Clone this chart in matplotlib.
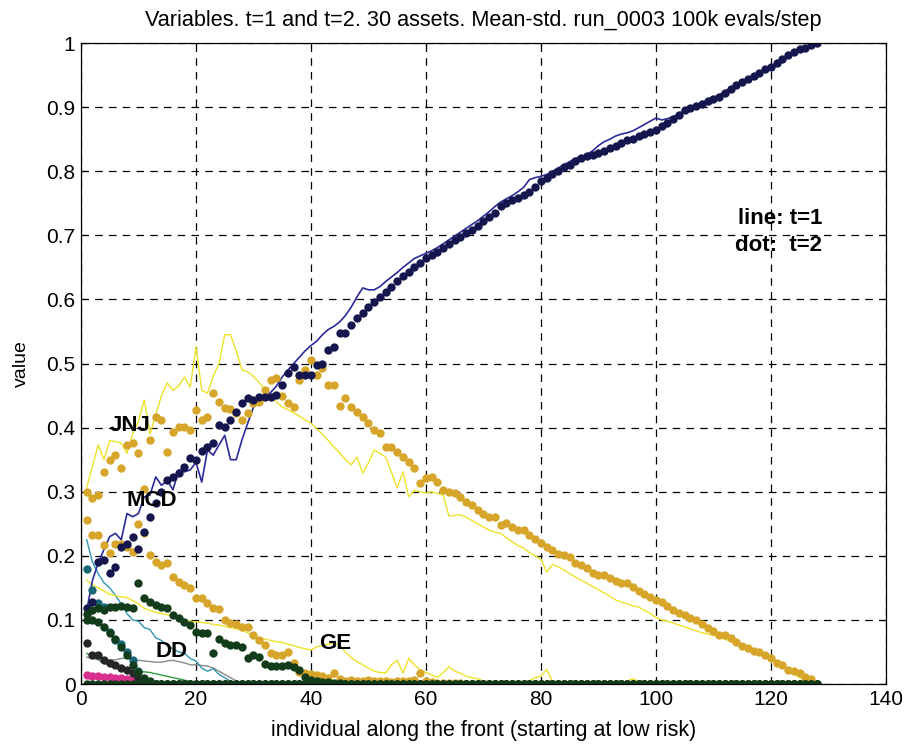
import numpy as np
import matplotlib
matplotlib.use("Agg")
import matplotlib.pyplot as plt

plt.rcParams['font.family'] = ['Liberation Sans', 'DejaVu Sans']

# individuals along the front, low risk -> high risk
idx = np.arange(1, 129)

# ---- t=1 (lines) ----
mcd_t1 = [0.115, 0.162, 0.189, 0.21, 0.23, 0.235, 0.225, 0.266, 0.261, 0.266,
          0.292, 0.295, 0.323, 0.31, 0.318, 0.303, 0.334, 0.331, 0.334, 0.346,
          0.315, 0.365, 0.357, 0.373, 0.388, 0.35, 0.35, 0.381, 0.407, 0.432,
          0.44, 0.448, 0.455, 0.465, 0.479, 0.49, 0.5, 0.51, 0.52, 0.528,
          0.535, 0.545, 0.553, 0.558, 0.565, 0.575, 0.588, 0.604, 0.618, 0.615,
          0.615, 0.62, 0.628, 0.635, 0.642, 0.65, 0.657, 0.664, 0.668, 0.672,
          0.676, 0.681, 0.687, 0.693, 0.699, 0.705, 0.711, 0.717, 0.723, 0.73,
          0.737, 0.745, 0.752, 0.757, 0.762, 0.768, 0.775, 0.787, 0.79, 0.792,
          0.795, 0.8, 0.805, 0.81, 0.815, 0.82, 0.823, 0.826, 0.832, 0.84,
          0.846, 0.85, 0.855, 0.858, 0.86, 0.863, 0.868, 0.873, 0.878, 0.883,
          0.88, 0.882, 0.885, 0.89, 0.895, 0.899, 0.903, 0.907, 0.911, 0.915,
          0.919, 0.925, 0.93, 0.935, 0.94, 0.945, 0.95, 0.955, 0.959, 0.963,
          0.968, 0.973, 0.978, 0.983, 0.987, 0.991, 0.995, 1.0]

jnj_t1 = [0.307, 0.34, 0.373, 0.35, 0.38, 0.378, 0.376, 0.36, 0.39, 0.41,
          0.443, 0.39, 0.42, 0.45, 0.47, 0.458, 0.465, 0.479, 0.463, 0.526,
          0.458, 0.454, 0.48, 0.5, 0.545, 0.545, 0.52, 0.49, 0.487, 0.48,
          0.47, 0.46, 0.45, 0.44, 0.432, 0.428, 0.423, 0.418, 0.412, 0.407,
          0.398, 0.39, 0.38, 0.37, 0.36, 0.35, 0.342, 0.354, 0.329, 0.345,
          0.365, 0.36, 0.354, 0.33, 0.306, 0.331, 0.292, 0.302, 0.3, 0.298,
          0.3, 0.297, 0.295, 0.262, 0.263, 0.264, 0.26, 0.255, 0.25, 0.245,
          0.24, 0.237, 0.235, 0.228, 0.222, 0.216, 0.212, 0.205, 0.2, 0.195,
          0.175, 0.186, 0.183, 0.178, 0.172, 0.167, 0.162, 0.157, 0.152, 0.147,
          0.142, 0.137, 0.131, 0.128, 0.125, 0.122, 0.12, 0.115, 0.11, 0.104,
          0.1, 0.098, 0.095, 0.092, 0.089, 0.086, 0.083, 0.08, 0.078, 0.076,
          0.073, 0.07, 0.066, 0.063, 0.059, 0.055, 0.051, 0.046, 0.042, 0.038,
          0.033, 0.028, 0.022, 0.016, 0.01, 0.006, 0.003, 0.0]

ge_t1 = [0.162, 0.155, 0.15, 0.145, 0.14, 0.138, 0.136, 0.135, 0.13, 0.125,
         0.118, 0.115, 0.112, 0.11, 0.108, 0.105, 0.103, 0.1, 0.098, 0.097,
         0.096, 0.095, 0.093, 0.092, 0.09, 0.088, 0.086, 0.084, 0.08, 0.075,
         0.072, 0.07, 0.068, 0.066, 0.065, 0.062, 0.06, 0.057, 0.055, 0.053,
         0.058, 0.06, 0.062, 0.064, 0.06, 0.05, 0.041, 0.035, 0.03, 0.025,
         0.02, 0.018, 0.017, 0.03, 0.037, 0.017, 0.04, 0.03, 0.022, 0.018,
         0.014, 0.01, 0.018, 0.027, 0.02, 0.017, 0.012, 0.01, 0.008, 0.005,
         0.003, 0.002, 0.002, 0.001, 0.0, 0.0, 0.0, 0.005, 0.01, 0.012,
         0.023, 0.004, 0.0, 0.0, 0.0, 0.0, 0.0, 0.0, 0.0, 0.0,
         0.0, 0.0, 0.0, 0.0, 0.005, 0.008, 0.004, 0.0, 0.0, 0.0,
         0.0, 0.0, 0.0, 0.0, 0.0, 0.0, 0.0, 0.0, 0.0, 0.0,
         0.0, 0.0, 0.0, 0.0, 0.0, 0.0, 0.0, 0.0, 0.0, 0.0,
         0.0, 0.0, 0.0, 0.0, 0.0, 0.0, 0.0, 0.0]

dd_t1 = [0.225, 0.19, 0.172, 0.158, 0.15, 0.138, 0.125, 0.11, 0.1, 0.098,
         0.088, 0.085, 0.072, 0.068, 0.06, 0.055, 0.05, 0.048, 0.04, 0.036,
         0.025, 0.02, 0.024, 0.015, 0.01, 0.004] + [0.0] * 102

gray_t1 = [0.042, 0.04, 0.038, 0.036, 0.037, 0.038, 0.04, 0.04, 0.038, 0.037,
           0.036, 0.035, 0.034, 0.034, 0.036, 0.037, 0.035, 0.033, 0.03, 0.03,
           0.029, 0.028, 0.025, 0.02, 0.015, 0.01, 0.005] + [0.0] * 101

green_t1 = [0.048, 0.043, 0.038, 0.032, 0.03, 0.026, 0.023, 0.022, 0.021, 0.02,
            0.019, 0.018, 0.016, 0.014, 0.012, 0.01, 0.008, 0.006, 0.004, 0.002] + [0.0] * 108

pink_t1 = [0.012, 0.012, 0.012, 0.011, 0.011, 0.011, 0.01, 0.01, 0.008, 0.004] + [0.0] * 118

# ---- t=2 (dots) ----
mcd_t2 = [0.118, 0.128, 0.19, 0.193, 0.173, 0.183, 0.214, 0.218, 0.23, 0.21,
          0.237, 0.26, 0.282, 0.3, 0.318, 0.323, 0.329, 0.339, 0.353, 0.35,
          0.364, 0.37, 0.376, 0.404, 0.401, 0.412, 0.424, 0.438, 0.446, 0.443,
          0.448, 0.448, 0.448, 0.451, 0.466, 0.485, 0.495, 0.482, 0.482, 0.482,
          0.498, 0.5, 0.521, 0.526, 0.547, 0.547, 0.56, 0.571, 0.579, 0.588,
          0.596, 0.604, 0.612, 0.62, 0.628, 0.636, 0.643, 0.65, 0.657, 0.665,
          0.67, 0.674, 0.68, 0.686, 0.692, 0.698, 0.703, 0.709, 0.715, 0.722,
          0.728, 0.735, 0.745, 0.75, 0.755, 0.758, 0.763, 0.768, 0.775, 0.784,
          0.79, 0.795, 0.8, 0.806, 0.81, 0.816, 0.82, 0.824, 0.826, 0.828,
          0.832, 0.836, 0.84, 0.844, 0.848, 0.851, 0.855, 0.858, 0.861, 0.864,
          0.87, 0.876, 0.882, 0.888, 0.895, 0.898, 0.902, 0.905, 0.909, 0.913,
          0.916, 0.922, 0.929, 0.934, 0.939, 0.944, 0.949, 0.954, 0.959, 0.963,
          0.969, 0.975, 0.981, 0.986, 0.99, 0.993, 0.997, 1.0]

jnj_t2 = [0.3, 0.29, 0.295, 0.33, 0.35, 0.357, 0.337, 0.373, 0.376, 0.36,
          0.305, 0.381, 0.417, 0.412, 0.362, 0.393, 0.401, 0.401, 0.396, 0.427,
          0.412, 0.417, 0.454, 0.44, 0.43, 0.429, 0.423, 0.412, 0.423, 0.438,
          0.44, 0.459, 0.474, 0.477, 0.45, 0.438, 0.432, 0.474, 0.49, 0.505,
          0.482, 0.493, 0.466, 0.466, 0.434, 0.446, 0.432, 0.424, 0.417, 0.407,
          0.396, 0.391, 0.37, 0.37, 0.362, 0.354, 0.346, 0.337, 0.313, 0.321,
          0.323, 0.315, 0.303, 0.3, 0.298, 0.292, 0.284, 0.279, 0.271, 0.266,
          0.261, 0.261, 0.248, 0.251, 0.245, 0.24, 0.24, 0.232, 0.226, 0.22,
          0.214, 0.209, 0.203, 0.201, 0.198, 0.189, 0.186, 0.181, 0.173, 0.17,
          0.17, 0.165, 0.161, 0.158, 0.157, 0.151, 0.145, 0.141, 0.136, 0.131,
          0.128, 0.121, 0.115, 0.111, 0.108, 0.103, 0.1, 0.094, 0.088, 0.082,
          0.076, 0.076, 0.072, 0.066, 0.06, 0.056, 0.052, 0.05, 0.045, 0.04,
          0.033, 0.03, 0.022, 0.02, 0.017, 0.011, 0.008, 0.0]

ge_t2 = [0.256, 0.232, 0.232, 0.217, 0.204, 0.218, 0.218, 0.214, 0.206, 0.25,
         0.236, 0.201, 0.19, 0.186, 0.189, 0.167, 0.159, 0.154, 0.15, 0.134,
         0.134, 0.126, 0.118, 0.117, 0.1, 0.095, 0.094, 0.089, 0.089, 0.076,
         0.069, 0.061, 0.048, 0.045, 0.045, 0.05, 0.033, 0.019, 0.017, 0.016,
         0.014, 0.013, 0.01, 0.017, 0.008, 0.005, 0.006, 0.004, 0.005, 0.006,
         0.004, 0.005, 0.004, 0.003, 0.004, 0.005, 0.004, 0.006, 0.017, 0.005,
         0.003, 0.002, 0.002, 0.002, 0.001, 0.001] + [0.0] * 62

green_t2 = [0.11, 0.115, 0.118, 0.115, 0.12, 0.12, 0.121, 0.12, 0.118, 0.158,
            0.134, 0.128, 0.123, 0.12, 0.118, 0.108, 0.103, 0.097, 0.092, 0.081,
            0.08, 0.08, 0.048, 0.07, 0.064, 0.061, 0.061, 0.058, 0.04, 0.045,
            0.042, 0.031, 0.028, 0.028, 0.028, 0.03, 0.027, 0.022, 0.011, 0.006,
            0.004, 0.003, 0.003, 0.002, 0.002] + [0.0] * 83

green2_t2 = [0.1, 0.1, 0.097, 0.089, 0.08, 0.07, 0.058, 0.045, 0.03, 0.018,
             0.01, 0.004] + [0.0] * 116

dd_t2 = [0.18, 0.147, 0.126, 0.12, 0.081, 0.068, 0.062, 0.05, 0.037, 0.02,
         0.008] + [0.0] * 117

black_t2 = [0.064, 0.045, 0.045, 0.038, 0.033, 0.03, 0.025, 0.022, 0.017, 0.01,
            0.005] + [0.0] * 117

pink_t2 = [0.014, 0.012, 0.012, 0.011, 0.011, 0.01, 0.01, 0.008, 0.006, 0.003] + [0.0] * 118

# assets that stay out of the portfolio at t=2
rest_t2 = [0.0] * 128

fig = plt.figure(figsize=(9.11, 7.47), dpi=100)
ax = fig.add_axes([0.0889, 0.0843, 0.8836, 0.8581])

# lines: t=1
ax.plot(idx, pink_t1, color='#e0308f', lw=1.0)
ax.plot(idx, green_t1, color='#2e9a3c', lw=1.0)
ax.plot(idx, gray_t1, color='#8a8a8a', lw=1.0)
ax.plot(idx, dd_t1, color='#2f95b5', lw=1.0)
ax.plot(idx, ge_t1, color='#ece22a', lw=1.0)
ax.plot(idx, jnj_t1, color='#ece22a', lw=1.0)
ax.plot(idx, mcd_t1, color='#2a2a9a', lw=1.2)

# dots: t=2
ms = 6.0
ax.plot(idx, pink_t2, 'o', color='#d8308c', ms=ms, mec='none')
ax.plot(idx, black_t2, 'o', color='#262626', ms=ms, mec='none')
ax.plot(idx, dd_t2, 'o', color='#1b6878', ms=ms, mec='none')
ax.plot(idx, ge_t2, 'o', color='#d6a52a', ms=ms, mec='none')
ax.plot(idx, jnj_t2, 'o', color='#d6a52a', ms=ms, mec='none')
ax.plot(idx, mcd_t2, 'o', color='#16164e', ms=ms, mec='none')
ax.plot(idx, green2_t2, 'o', color='#123c1a', ms=ms, mec='none')
ax.plot(idx, green_t2, 'o', color='#123c1a', ms=ms, mec='none')
ax.plot(idx, rest_t2, 'o', color='#123c1a', ms=ms, mec='none')

# asset names
lab = dict(fontsize=16, fontweight='bold', color='black', ha='center', va='center')
ax.text(8.5, 0.404, 'JNJ', **lab)
ax.text(12.3, 0.287, 'MCD', **lab)
ax.text(15.8, 0.051, 'DD', **lab)
ax.text(44.2, 0.064, 'GE', **lab)
ax.text(128.9, 0.727, 'line: t=1', fontsize=16, fontweight='bold', ha='right', va='center')
ax.text(128.9, 0.684, 'dot:  t=2', fontsize=16, fontweight='bold', ha='right', va='center')

ax.set_xlim(0, 140)
ax.set_ylim(0, 1)
ax.set_xticks(np.arange(0, 141, 20))
ax.set_yticks(np.arange(0, 1.01, 0.1))
ax.set_yticklabels(['0', '0.1', '0.2', '0.3', '0.4', '0.5', '0.6', '0.7', '0.8', '0.9', '1'])
ax.tick_params(direction='in', top=True, right=True, labelsize=15, length=4, pad=4)
ax.grid(True, color='black', linestyle=(0, (6, 5)), linewidth=0.9)
for s in ax.spines.values():
    s.set_linewidth(0.9)

ax.set_title('Variables. t=1 and t=2. 30 assets. Mean-std. run_0003 100k evals/step',
             fontsize=15.6, pad=12)
ax.set_xlabel('individual along the front (starting at low risk)', fontsize=15.5, labelpad=8)
ax.set_ylabel('value', fontsize=14, labelpad=12)

fig.savefig('out.png', dpi=100)
